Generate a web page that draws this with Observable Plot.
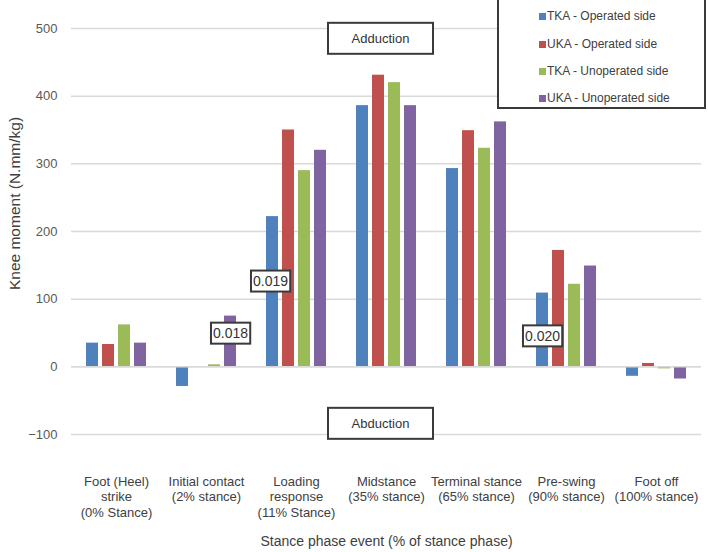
<!DOCTYPE html>
<html>
<head>
<meta charset="utf-8">
<script src="https://cdn.jsdelivr.net/npm/d3@7"></script>
<script src="https://cdn.jsdelivr.net/npm/@observablehq/plot@0.6"></script>
<style>
  html, body { margin: 0; padding: 0; background: #ffffff; }
  #wrap { position: relative; width: 708px; height: 552px; font-family: "Liberation Sans", Arial, sans-serif; }
  #legend { position: absolute; left: 497px; top: -2px; width: 209px; height: 111px; box-sizing: border-box;
            border: 2px solid #3a3a3a; background: #ffffff; }
  .item { position: absolute; left: 40px; font-size: 12px; color: #404040; white-space: nowrap; line-height: 16px; }
  .sw { display: inline-block; width: 7px; height: 7px; margin-right: 1px; vertical-align: 0px; }
</style>
</head>
<body>
<div id="wrap"><div id="legend"></div></div>
<script>
// ---- data ----
const categories = [
  "Foot (Heel)\nstrike\n(0% Stance)",
  "Initial contact\n(2% stance)",
  "Loading\nresponse\n(11% Stance)",
  "Midstance\n(35% stance)",
  "Terminal stance\n(65% stance)",
  "Pre-swing\n(90% stance)",
  "Foot off\n(100% stance)"
];
const series = ["TKA - Operated side", "UKA - Operated side", "TKA - Unoperated side", "UKA - Unoperated side"];
const tkaOperated   = [35, -29, 222, 386, 293, 109, -14];
const ukaOperated   = [33,   0, 350, 431, 349, 172,   5];
const tkaUnoperated = [62,   3, 290, 420, 323, 122,  -3];
const ukaUnoperated = [35,  75, 320, 386, 362, 149, -18];
const yTicks = [-100, 0, 100, 200, 300, 400, 500];
const pValues = ["0.018", "0.019", "0.020"];
const regionLabels = ["Adduction", "Abduction"];
const yLabel = "Knee moment (N.mm/kg)";
const xLabel = "Stance phase event (% of stance phase)";
const colors = ["#4F81BD", "#C0504D", "#9BBB59", "#8064A2"];

const valuesBySeries = [tkaOperated, ukaOperated, tkaUnoperated, ukaUnoperated];
const rows = [];
categories.forEach((c, i) => series.forEach((s, j) => rows.push({cat: c, series: s, value: valuesBySeries[j][i]})));

const font = "'Liberation Sans', Arial, sans-serif";

const plot = Plot.plot({
  width: 708,
  height: 552,
  marginLeft: 70,
  marginRight: 6,
  marginTop: 28,
  marginBottom: 118,
  style: {fontFamily: font, fontSize: "13px", color: "#595959", background: "transparent", overflow: "visible"},
  fx: {domain: categories, padding: 0, label: null, axis: null},
  x: {domain: series, paddingInner: 0.25, paddingOuter: 0.86, axis: null},
  y: {domain: [-100, 500], axis: null},
  color: {domain: series, range: colors},
  marks: [
    Plot.ruleY(yTicks, {stroke: "#d9d9d9", strokeWidth: 1.5}),
    Plot.axisY({ticks: yTicks, tickSize: 0, tickPadding: 14, label: null, fill: "#595959", fontSize: 13}),
    Plot.axisFx({anchor: "bottom", tickSize: 0, tickPadding: 40, label: null, fill: "#404040", fontSize: 13, lineHeight: 1.2}),
    Plot.barY(rows, {fx: "cat", x: "series", y: "value", fill: "series"}),
    Plot.ruleY([0], {stroke: "#d9d9d9", strokeWidth: 1.5}),
    // axis titles
    Plot.text([yLabel], {fx: [categories[0]], text: d => d, frameAnchor: "left", textAnchor: "middle", rotate: -90, dx: -56, dy: -28, fill: "#404040", fontSize: 15.5}),
    Plot.text([xLabel], {fx: [categories[3]], text: d => d, frameAnchor: "bottom", textAnchor: "middle", dy: 111, fill: "#404040", fontSize: 14}),
    // boxed annotations
    Plot.text([regionLabels[0]], {fx: [categories[3]], y: [485], text: d => d, dx: -6, fill: "#333", fontSize: 13}),
    Plot.text([regionLabels[1]], {fx: [categories[3]], y: [-84], text: d => d, dx: -6, fill: "#333", fontSize: 13}),
    Plot.text([pValues[0]], {fx: [categories[1]], y: [49], text: d => d, dx: 24, fill: "#333", fontSize: 14}),
    Plot.text([pValues[1]], {fx: [categories[2]], y: [126], text: d => d, dx: -26, fill: "#333", fontSize: 14}),
    Plot.text([pValues[2]], {fx: [categories[5]], y: [45], text: d => d, dx: -24, fill: "#333", fontSize: 14})
  ]
});

const wrap = document.getElementById("wrap");
wrap.insertBefore(plot, wrap.firstChild);

function boxText(labels, padX, padY, minW, minH) {
  plot.querySelectorAll("text").forEach(t => {
    if (!labels.includes(t.textContent)) return;
    const bb = t.getBBox();
    const w = Math.max(bb.width + 2 * padX, minW);
    const h = Math.max(bb.height + 2 * padY, minH);
    const r = document.createElementNS("http://www.w3.org/2000/svg", "rect");
    r.setAttribute("x", bb.x + bb.width / 2 - w / 2);
    r.setAttribute("y", bb.y + bb.height / 2 - h / 2);
    r.setAttribute("width", w);
    r.setAttribute("height", h);
    r.setAttribute("fill", "#ffffff");
    r.setAttribute("stroke", "#3a3a3a");
    r.setAttribute("stroke-width", 2);
    if (t.getAttribute("transform")) r.setAttribute("transform", t.getAttribute("transform"));
    t.parentNode.insertBefore(r, t);
  });
}
boxText(regionLabels, 20, 8, 105, 31);
boxText(pValues, 2, 2, 37, 21);

// legend
const legend = document.getElementById("legend");
const rowTops = [8, 36, 63, 90];
series.forEach((s, i) => {
  const d = document.createElement("div");
  d.className = "item";
  d.style.top = rowTops[i] + "px";
  d.innerHTML = `<span class="sw" style="background:${colors[i]}"></span>${s}`;
  legend.appendChild(d);
});
</script>
</body>
</html>
